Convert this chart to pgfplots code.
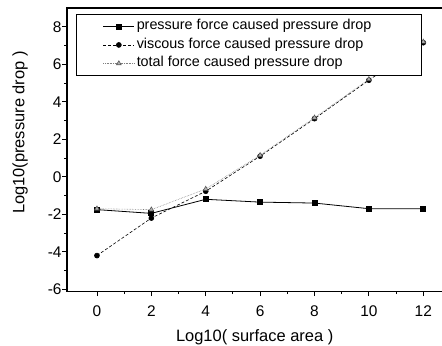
\documentclass[border=0pt]{standalone}
\usepackage{pgfplots}
\pgfplotsset{compat=1.18}
\usepackage{fontspec}
\setmainfont{Liberation Sans}
\begin{document}
\begin{tikzpicture}
\begin{axis}[
  scale only axis, width=375bp, height=283bp,
  xmin=-1.1, xmax=12.7, ymin=-6.1, ymax=9,
  xtick={0,2,...,12}, ytick={-6,-4,...,8},
  minor x tick num=1, minor y tick num=1,
  tick align=outside, tick pos=left,
  major tick length=5bp, minor tick length=3bp,
  every tick/.style={black, line width=0.9pt},
  axis line style={line width=1.2pt},
  /pgf/number format/assume math mode=true,
  tick label style={font=\fontsize{15.5}{18}\selectfont},
  xticklabel shift=6bp, yticklabel shift=-3bp,
  xlabel={Log10( surface area )}, ylabel={Log10(pressure drop )},
  label style={font=\fontsize{16.5}{19}\selectfont},
  xlabel style={at={(axis description cs:0.5,-0.163)}, anchor=center},
  ylabel style={at={(axis description cs:-0.125,0.56)}, anchor=center},
  legend style={at={(0.025,0.979)}, anchor=north west,
    font=\fontsize{14.4}{16}\selectfont, draw=black, line width=1pt,
    inner xsep=26bp, inner ysep=3bp, row sep=0.5bp,
    nodes={inner sep=2pt, text height=10.5bp, text depth=3.5bp}},
  legend cell align=left,
  legend image code/.code={\draw[mark repeat=2,mark phase=2,#1] plot coordinates {(0bp,0bp)(15.5bp,0bp)(31bp,0bp)};},
]
\addplot[black, line width=0.8pt, mark=square*, mark size=2.5pt, mark options={solid}]
  coordinates {(0,-1.75) (2,-1.95) (4,-1.2) (6,-1.35) (8,-1.4) (10,-1.7) (12,-1.7)};
\addlegendentry{pressure force caused pressure drop\hspace*{22bp}}
\addplot[black, line width=0.6pt, dash pattern=on 3pt off 2pt, mark=*, mark size=2.5pt, mark options={solid}]
  coordinates {(0,-4.2) (2,-2.2) (4,-0.77) (6,1.1) (8,3.1) (10,5.15) (12,7.15)};
\addlegendentry{viscous force caused pressure drop}
\addplot[gray, line width=0.6pt, densely dotted, mark=triangle*, mark size=2.7pt, mark options={solid, fill=gray!60, draw=gray!70!black}]
  coordinates {(0,-1.7) (2,-1.75) (4,-0.65) (6,1.15) (8,3.15) (10,5.2) (12,7.2)};
\addlegendentry{total force caused pressure drop}
\end{axis}
\pgfresetboundingbox
\path ([xshift=-67bp,yshift=-54bp]current axis.south west) rectangle ([xshift=-0.3bp,yshift=8bp]current axis.north east);
\end{tikzpicture}
\end{document}
